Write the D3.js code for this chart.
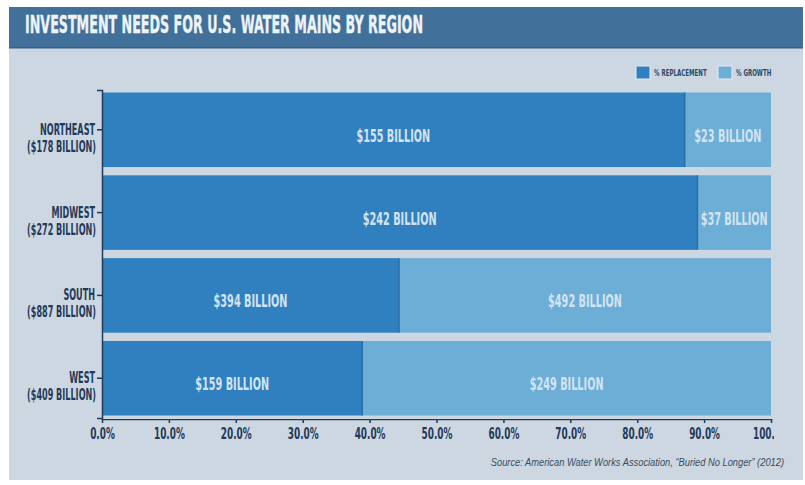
<!DOCTYPE html>
<html lang="en">
<head>
  <meta charset="utf-8">
  <title>Investment Needs for U.S. Water Mains by Region</title>
  <style>
    html,body { margin:0; padding:0; overflow:hidden; background:#ffffff; }
    svg { display:block; }
    .narrow { font-family:"Liberation Sans Narrow","DejaVu Sans Condensed","Roboto",sans-serif; font-weight:bold; }
  </style>
  <script src="https://d3js.org/d3.v7.min.js"></script>
</head>
<body>
  <svg width="805" height="485"></svg>

  <script>
  /* ---------------- data ---------------- */
  const regions      = ["NORTHEAST", "MIDWEST", "SOUTH", "WEST"];
  const totals       = ["($178 BILLION)", "($272 BILLION)", "($887 BILLION)", "($409 BILLION)"];
  const replacement  = [155, 242, 394, 159];      // $ billion
  const growth       = [23, 37, 492, 249];        // $ billion
  const replacePct   = [87.1, 89.0, 44.4, 38.9];  // share of bar, %
  const growthPct    = [12.9, 11.0, 55.6, 61.1];
  const xTicks       = [0, 10, 20, 30, 40, 50, 60, 70, 80, 90, 100];

  const W = 805, H = 485;
  const svg = d3.select("svg");

  // squeeze text horizontally (no narrow font installed)
  function squeeze(sel, f) {
    sel.each(function () {
      const L = this.getComputedTextLength();
      this.setAttribute("textLength", L * f);
      this.setAttribute("lengthAdjust", "spacingAndGlyphs");
    });
  }

  // panel + title bar
  svg.append("rect").attr("x", 9).attr("y", 7).attr("width", W - 11).attr("height", H - 12)
     .attr("fill", "#cdd7e1");
  svg.append("rect").attr("x", 9).attr("y", 7).attr("width", W - 11).attr("height", 41)
     .attr("fill", "#41719a");
  svg.append("rect").attr("x", 9).attr("y", 47).attr("width", W - 11).attr("height", 1.5)
     .attr("fill", "#365f83");
  svg.append("text").attr("class", "narrow")
     .attr("x", 25).attr("y", 33)
     .attr("font-size", 25)
     .attr("textLength", 398).attr("lengthAdjust", "spacingAndGlyphs")
     .attr("fill", "#eef3f8")
     .attr("stroke", "#eef3f8").attr("stroke-width", 0.4)
     .text("INVESTMENT NEEDS FOR U.S. WATER MAINS BY REGION");

  /* ---------------- scales ---------------- */
  const x = d3.scaleLinear().domain([0, 100]).range([102, 771]);
  const y = d3.scaleBand().domain(regions).range([90, 418]).paddingInner(0.1).paddingOuter(0.03);

  const rows = regions.map((r, i) => ({
    region: r, total: totals[i],
    rep: replacement[i], gro: growth[i],
    repPct: replacePct[i], groPct: growthPct[i]
  }));

  const stack = d3.stack().keys(["repPct", "groPct"])(rows);
  const colors = { repPct: "#3080c0", groPct: "#6caed6" };

  const layer = svg.append("g").selectAll("g").data(stack).join("g")
      .attr("fill", d => colors[d.key]);

  layer.selectAll("rect").data(d => d).join("rect")
      .attr("x", d => x(d[0]))
      .attr("y", d => y(d.data.region))
      .attr("width", d => x(d[1]) - x(d[0]))
      .attr("height", y.bandwidth());

  // seam between segments
  svg.append("g").selectAll("line").data(rows).join("line")
      .attr("x1", d => x(d.repPct)).attr("x2", d => x(d.repPct))
      .attr("y1", d => y(d.region)).attr("y2", d => y(d.region) + y.bandwidth())
      .attr("stroke", "#2a6ea6").attr("stroke-width", 1.5);

  // value labels
  const labelColor = "#d3e3f2";
  const labels = svg.append("g").attr("class", "narrow").attr("font-size", 18)
      .attr("fill", labelColor).attr("text-anchor", "middle");
  labels.selectAll("text.rep").data(rows).join("text").attr("class", "rep")
      .attr("x", d => x(d.repPct / 2))
      .attr("y", d => y(d.region) + y.bandwidth() / 2 + 12)
      .text(d => `$${d.rep} BILLION`);
  labels.selectAll("text.gro").data(rows).join("text").attr("class", "gro")
      .attr("x", d => x(d.repPct + d.groPct / 2))
      .attr("y", d => y(d.region) + y.bandwidth() / 2 + 12)
      .text(d => `$${d.gro} BILLION`);
  squeeze(labels.selectAll("text"), 0.6);

  /* ---------------- axes ---------------- */
  const axisColor = "#1f3a5a";
  const yAxis = svg.append("g")
      .attr("transform", `translate(${x(0)},0)`)
      .call(d3.axisLeft(y).tickSize(5).tickSizeOuter(5).tickFormat(""));
  yAxis.selectAll("path, line").attr("stroke", axisColor).attr("stroke-width", 1.5);

  const catLab = svg.append("g").attr("class", "narrow").attr("font-size", 15)
      .attr("fill", axisColor).attr("text-anchor", "end");
  catLab.selectAll("text.r").data(rows).join("text").attr("class", "r")
      .attr("x", 95).attr("y", d => y(d.region) + y.bandwidth() / 2 + 5)
      .text(d => d.region);
  catLab.selectAll("text.t").data(rows).join("text").attr("class", "t")
      .attr("x", 96).attr("y", d => y(d.region) + y.bandwidth() / 2 + 22)
      .text(d => d.total);
  squeeze(catLab.selectAll("text"), 0.6);

  svg.append("clipPath").attr("id", "clipX")
     .append("rect").attr("x", 0).attr("y", 0).attr("width", 774).attr("height", H);

  const xAxis = svg.append("g")
      .attr("transform", "translate(0,419)")
      .attr("clip-path", "url(#clipX)")
      .call(d3.axisBottom(x).tickValues(xTicks).tickSize(4).tickSizeOuter(-4)
        .tickFormat(d => d.toFixed(1) + "%"));
  xAxis.selectAll("path, line").attr("stroke", axisColor).attr("stroke-width", 1.5);
  xAxis.selectAll("text").attr("class", "narrow").attr("font-size", 15)
      .attr("fill", axisColor).attr("dy", "0.72em").attr("y", 9);
  squeeze(xAxis.selectAll("text"), 0.66);

  /* ---------------- legend ---------------- */
  const legend = svg.append("g").attr("class", "narrow").attr("font-size", 8.5).attr("fill", "#2a4a6a");
  const legItems = [["% REPLACEMENT", colors.repPct, 636], ["% GROWTH", colors.groPct, 718]];
  legItems.forEach(([t, c, lx]) => {
    legend.append("rect").attr("x", lx).attr("y", 66).attr("width", 14).attr("height", 13)
      .attr("fill", c).attr("stroke", "#e4ecf3").attr("stroke-width", 1);
    legend.append("text").attr("x", lx + 18).attr("y", 75.5).text(t);
  });
  squeeze(legend.selectAll("text"), 0.72);

  /* ---------------- source ---------------- */
  const src = svg.append("text")
     .attr("x", 784).attr("y", 466).attr("text-anchor", "end")
     .attr("font-family", "'Liberation Sans',sans-serif")
     .attr("font-style", "italic").attr("font-size", 10).attr("fill", "#3b4c5e")
     .text("Source: American Water Works Association, \u201CBuried No Longer\u201D (2012)");
  squeeze(src, 0.93);
  </script>
</body>
</html>
